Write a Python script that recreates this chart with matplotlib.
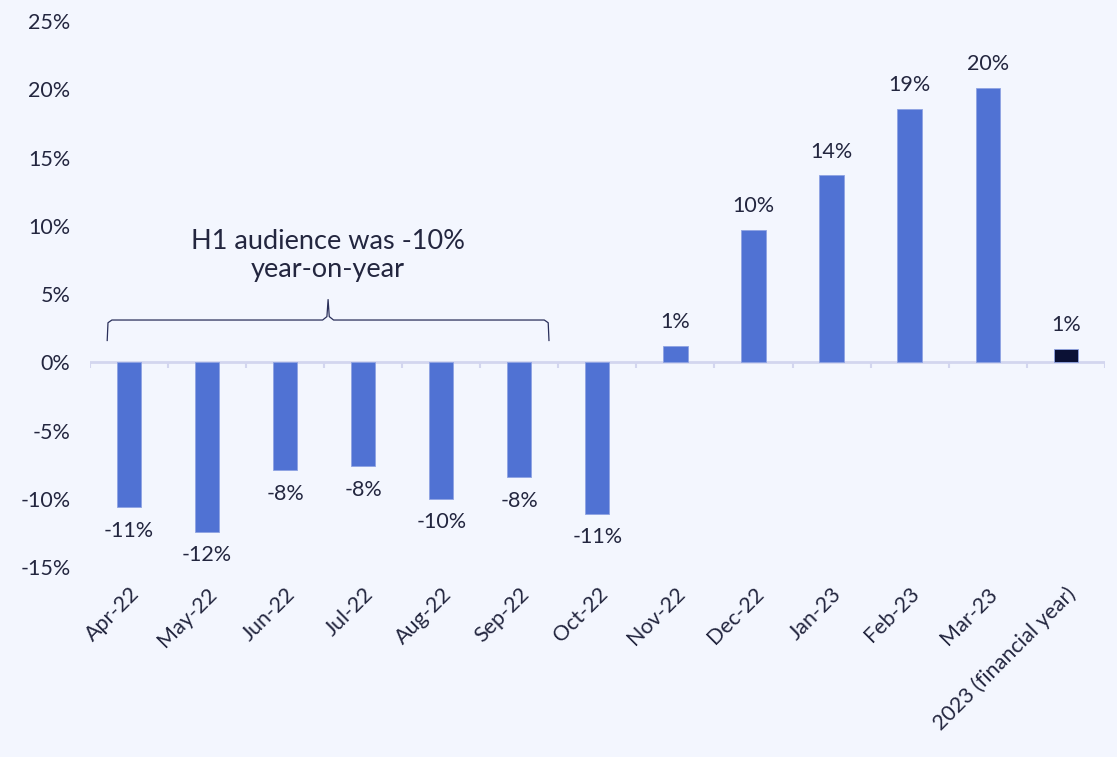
import numpy as np
import matplotlib.pyplot as plt

months = ['Apr-22', 'May-22', 'Jun-22', 'Jul-22', 'Aug-22', 'Sep-22', 'Oct-22',
          'Nov-22', 'Dec-22', 'Jan-23', 'Feb-23', 'Mar-23', '2023 (financial year)']
change = [-10.6, -12.4, -7.9, -7.6, -10.0, -8.4, -11.1,
          1.2, 9.7, 13.7, 18.6, 20.1, 1.0]
note = 'H1 audience was -10%\nyear-on-year'

bg = '#f3f6fe'
blue = '#5072d3'
navy = '#0b1135'
txt = '#23263f'
axis_col = '#d3d6ef'

plt.rcParams['font.family'] = ['Lato', 'DejaVu Sans']

fig = plt.figure(figsize=(11.17, 7.57), dpi=100, facecolor=bg)
ax = fig.add_axes([0.0806, 0.251, 0.9084, 0.721])
ax.set_facecolor(bg)

x = np.arange(len(months))
colors = [blue] * (len(months) - 1) + [navy]
ax.bar(x, change, width=0.31, color=colors, edgecolor='#8fa3e3', linewidth=0.6, zorder=3)

for xi, v in zip(x, change):
    off = 17 if v >= 0 else -17
    ax.annotate('%d%%' % round(v), (xi, v), xytext=(0, off), textcoords='offset points',
                ha='center', va='center', fontsize=15.5, color=txt)

# zero line with small category-boundary ticks
ax.axhline(0, color=axis_col, lw=2, zorder=2)
ax.vlines(np.arange(-0.5, len(months)), -0.4, 0, color=axis_col, lw=1.5, zorder=2)

# bracket over first half year
bx = [-0.28, -0.27, -0.22, 2.48, 2.535, 2.55, 2.565, 2.62, 5.32, 5.37, 5.38]
by = [1.6, 2.9, 3.1, 3.1, 3.35, 4.6, 3.35, 3.1, 3.1, 2.9, 1.6]
ax.plot(bx, by, color='#2a2f5a', lw=0.9, zorder=4)
ax.text(2.55, 7.85, note, ha='center', va='center', fontsize=19.5, color=txt,
        linespacing=1.15)

ax.set_xlim(-0.5, len(months) - 0.5)
ax.set_ylim(-15, 25)
ax.set_yticks(range(-15, 30, 5))
ax.set_yticklabels(['%d%%' % t for t in range(-15, 30, 5)])
ax.set_xticks(x)
ax.set_xticklabels(months, rotation=45, ha='right', rotation_mode='anchor')
ax.tick_params(axis='both', length=0, labelsize=15.5, colors=txt)
ax.tick_params(axis='y', pad=14)
ax.tick_params(axis='x', pad=12)
for s in ax.spines.values():
    s.set_visible(False)

fig.savefig('out.png', dpi=100, facecolor=bg)
